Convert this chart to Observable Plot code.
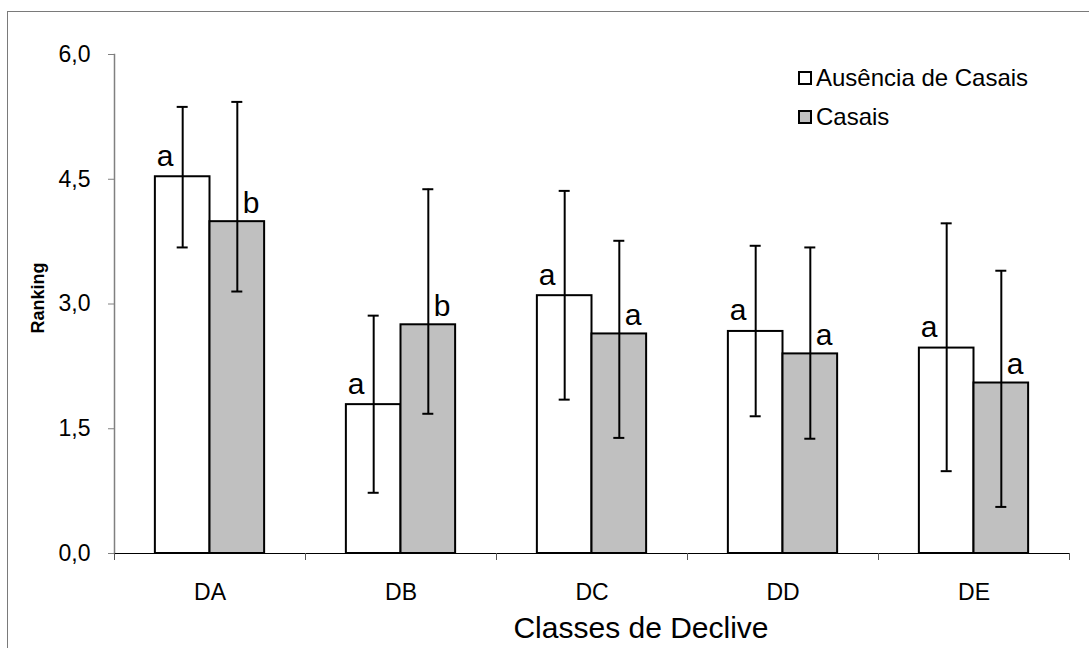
<!DOCTYPE html>
<html>
<head>
<meta charset="utf-8">
<script src="https://cdn.jsdelivr.net/npm/d3@7"></script>
<script src="https://cdn.jsdelivr.net/npm/@observablehq/plot@0.6"></script>
<style>
  html, body { margin: 0; padding: 0; background: #fff; overflow: hidden; }
  #wrap { position: relative; width: 1089px; height: 648px; font-family: "Liberation Sans", Arial, sans-serif; }
  #border { position: absolute; left: 7px; top: 11px; width: 1200px; height: 800px; border-left: 1.5px solid #7a7a7a; border-top: 1.5px solid #7a7a7a; pointer-events: none; }
  #legend { position: absolute; left: 798px; top: 58px; font-size: 24px; color: #000; }
  .row { display: flex; align-items: center; height: 39px; }
  .sw { width: 14px; height: 14px; box-sizing: border-box; border: 2px solid #000; margin-right: 4px; }
  #ytitle { position: absolute; left: 38px; top: 298px; transform: translate(-50%, -50%) rotate(-90deg); font-size: 18px; font-weight: bold; white-space: nowrap; color: #000; }
</style>
</head>
<body>
<div id="wrap">
  <div id="chart"></div>
  <div id="border"></div>
  <div id="legend"></div>
  <div id="ytitle"></div>
</div>
<script>
// ---- data ----
const categories = ["DA", "DB", "DC", "DD", "DE"];
const seriesNames = ["Ausência de Casais", "Casais"];
const seriesFills = ["#ffffff", "#c0c0c0"];
const ausenciaMean = [4.53, 1.79, 3.10, 2.67, 2.47];
const ausenciaLow  = [3.68, 0.73, 1.85, 1.65, 0.99];
const ausenciaHigh = [5.37, 2.86, 4.36, 3.70, 3.97];
const casaisMean = [3.99, 2.75, 2.64, 2.40, 2.05];
const casaisLow  = [3.15, 1.68, 1.39, 1.38, 0.56];
const casaisHigh = [5.43, 4.38, 3.76, 3.68, 3.40];
const ausenciaLetters = ["a", "a", "a", "a", "a"];
const casaisLetters   = ["b", "b", "a", "a", "a"];
const yTicks = [0, 1.5, 3, 4.5, 6];
const xTitle = "Classes de Declive";
const yTitle = "Ranking";

// ---- table built from arrays ----
const rowsA = categories.map((c, i) => ({cat: c, mean: ausenciaMean[i], low: ausenciaLow[i], high: ausenciaHigh[i], letter: ausenciaLetters[i]}));
const rowsC = categories.map((c, i) => ({cat: c, mean: casaisMean[i], low: casaisLow[i], high: casaisHigh[i], letter: casaisLetters[i]}));

// ---- layout ----
const W = 1089, H = 648;
const mL = 114, mR = 20, mT = 54, mB = 95;
const bw = (W - mL - mR) / categories.length;
const barW = bw * 0.286;
const capHalfInset = (bw - 11) / 2;
const font = "Liberation Sans, Arial, sans-serif";

const fmt = d => d.toFixed(1).replace(".", ",");

const chart = Plot.plot({
  width: W, height: H,
  marginLeft: mL, marginRight: mR, marginTop: mT, marginBottom: mB,
  style: {fontFamily: font, background: "transparent", color: "black"},
  x: {domain: categories, padding: 0, axis: null},
  y: {domain: [0, 6], axis: null},
  marks: [
    Plot.frame({anchor: "left", stroke: "#808080", strokeWidth: 1.5}),
    Plot.axisY({ticks: yTicks, tickFormat: fmt, tickSize: 6, tickPadding: 18, fontSize: 23, stroke: "#808080", fill: "black", label: null}),
    Plot.axisX({tickSize: 0, tickPadding: 30, fontSize: 23, fill: "black", label: null}),
    Plot.barY(rowsA, {x: "cat", y: "mean", fill: seriesFills[0], stroke: "black", strokeWidth: 2, insetLeft: bw / 2 - barW, insetRight: bw / 2}),
    Plot.barY(rowsC, {x: "cat", y: "mean", fill: seriesFills[1], stroke: "black", strokeWidth: 2, insetLeft: bw / 2, insetRight: bw / 2 - barW}),
    Plot.ruleY([0], {stroke: "black", strokeWidth: 1.2}),
    Plot.ruleX(categories, {x: d => d, y1: 0, y2: 0, dx: -bw / 2, insetBottom: -7, stroke: "#555"}),
    Plot.ruleX(categories.slice(-1), {x: d => d, y1: 0, y2: 0, dx: bw / 2, insetBottom: -7, stroke: "#555"}),
    // error bars
    Plot.ruleX(rowsA, {x: "cat", y1: "low", y2: "high", dx: -barW / 2, stroke: "black", strokeWidth: 2}),
    Plot.ruleX(rowsC, {x: "cat", y1: "low", y2: "high", dx: barW / 2, stroke: "black", strokeWidth: 2}),
    Plot.tickY(rowsA, {x: "cat", y: "high", dx: -barW / 2, insetLeft: capHalfInset, insetRight: capHalfInset, stroke: "black", strokeWidth: 2}),
    Plot.tickY(rowsA, {x: "cat", y: "low", dx: -barW / 2, insetLeft: capHalfInset, insetRight: capHalfInset, stroke: "black", strokeWidth: 2}),
    Plot.tickY(rowsC, {x: "cat", y: "high", dx: barW / 2, insetLeft: capHalfInset, insetRight: capHalfInset, stroke: "black", strokeWidth: 2}),
    Plot.tickY(rowsC, {x: "cat", y: "low", dx: barW / 2, insetLeft: capHalfInset, insetRight: capHalfInset, stroke: "black", strokeWidth: 2}),
    // significance letters
    Plot.text(rowsA, {x: "cat", y: "mean", text: "letter", dx: -45, dy: -11, lineAnchor: "bottom", fontSize: 30, fill: "black"}),
    Plot.text(rowsC, {x: "cat", y: "mean", text: "letter", dx: 41, dy: -9, lineAnchor: "bottom", fontSize: 30, fill: "black"}),
    // x axis title
    Plot.text([xTitle], {frameAnchor: "bottom", dx: 49, dy: 84, lineAnchor: "bottom", fontSize: 30, fill: "black"})
  ]
});
document.getElementById("chart").appendChild(chart);

document.getElementById("ytitle").textContent = yTitle;

// legend
const legend = document.getElementById("legend");
seriesNames.forEach((name, i) => {
  const row = document.createElement("div");
  row.className = "row";
  const sw = document.createElement("div");
  sw.className = "sw";
  sw.style.background = seriesFills[i];
  const t = document.createElement("span");
  t.textContent = name;
  row.appendChild(sw);
  row.appendChild(t);
  legend.appendChild(row);
});
</script>
</body>
</html>
